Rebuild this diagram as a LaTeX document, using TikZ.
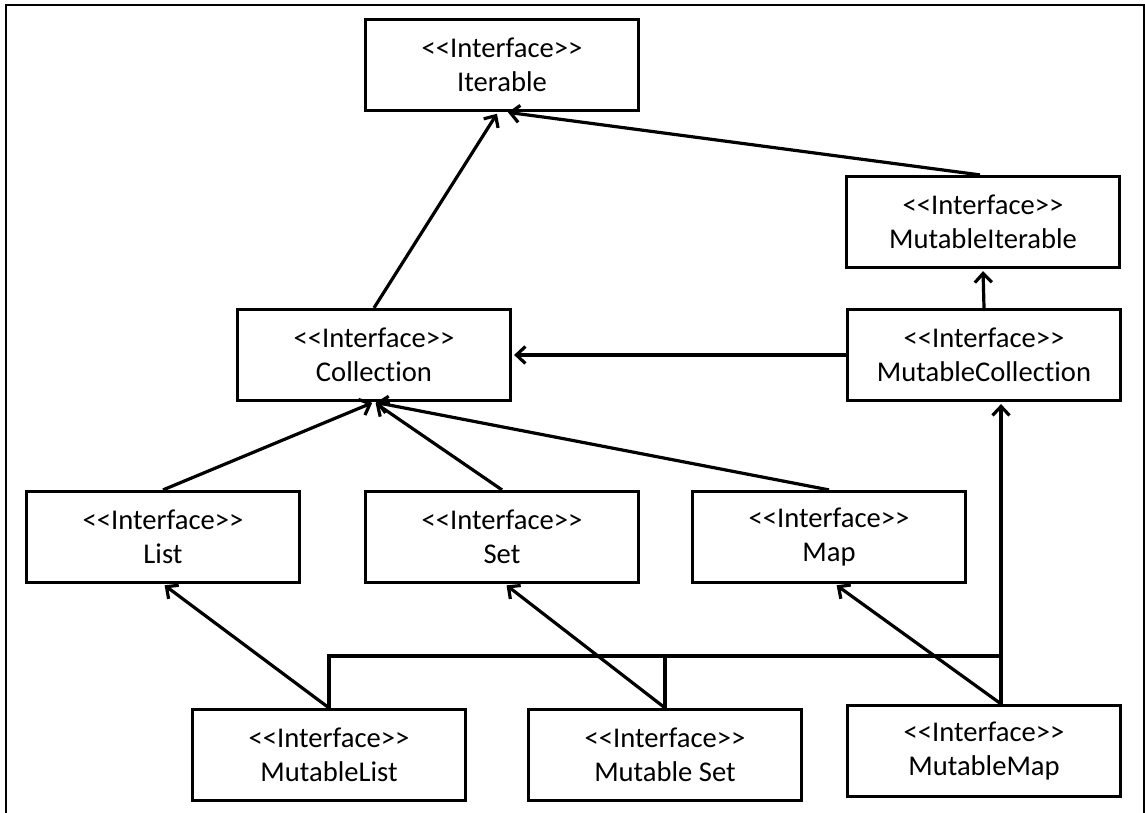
\documentclass[tikz,border=0pt]{standalone}
\usepackage{fontspec}
\setmainfont{Carlito}[Ligatures={NoCommon,NoRequired,NoContextual}]
\usetikzlibrary{arrows.meta}
\newcommand{\intf}{<{}<Interface>{}>}
\begin{document}
\begin{tikzpicture}[x=1pt,y=-1pt,
  box/.style={draw,line width=3.2pt,minimum width=273pt,minimum height=91pt,inner sep=0pt,align=center,
    font=\fontsize{28.6}{34}\selectfont},
  arr/.style={line width=3.2pt,-{Straight Barb[length=9pt,width=17pt,line width=3.2pt]},shorten >=2pt},
  ln/.style={line width=3.2pt}]
\useasboundingbox (0,0) rectangle (1145,813);
\draw[line width=2.8pt] (6,813) -- (6,5) -- (1144,5) -- (1144,813);
\node[box] (iter) at (502,65) {\intf\\Iterable};
\node[box] (miter) at (983,222) {\intf\\MutableIterable};
\node[box] (coll) at (374,355) {\intf\\Collection};
\node[box] (mcoll) at (984,355) {\intf\\MutableCollection};
\node[box] (list) at (163,537) {\intf\\List};
\node[box] (set) at (502,537) {\intf\\Set};
\node[box] (map) at (829,537) {\intf\\Map};
\node[box] (mlist) at (329,755) {\intf\\MutableList};
\node[box] (mset) at (665,755) {\intf\\Mutable Set};
\node[box] (mmap) at (984,751) {\intf\\MutableMap};
\coordinate (busR) at (1001,656);
\draw[arr] (coll.north) -- ([xshift=-4pt]iter.south);
\draw[arr] ([xshift=-3pt]miter.north) -- ([xshift=4pt]iter.south);
\draw[arr] (mcoll.north) -- (miter.south);
\draw[arr] (mcoll.west) -- (coll.east);
\draw[arr] (list.north) -- (coll.south);
\draw[arr] (set.north) -- (coll.south);
\draw[arr] (map.north) -- (coll.south);
\draw[arr] (mlist.north) -- (list.south);
\draw[arr] (mset.north) -- ([xshift=3pt]set.south);
\draw[arr] ([xshift=17pt]mmap.north) -- ([xshift=6pt]map.south);
\draw[arr] ([xshift=17pt]mmap.north) -- ([xshift=17pt]mcoll.south);
\draw[ln] (mlist.north) |- (busR);
\draw[ln] (mset.north) -- (mset.north |- busR);
\end{tikzpicture}
\end{document}
